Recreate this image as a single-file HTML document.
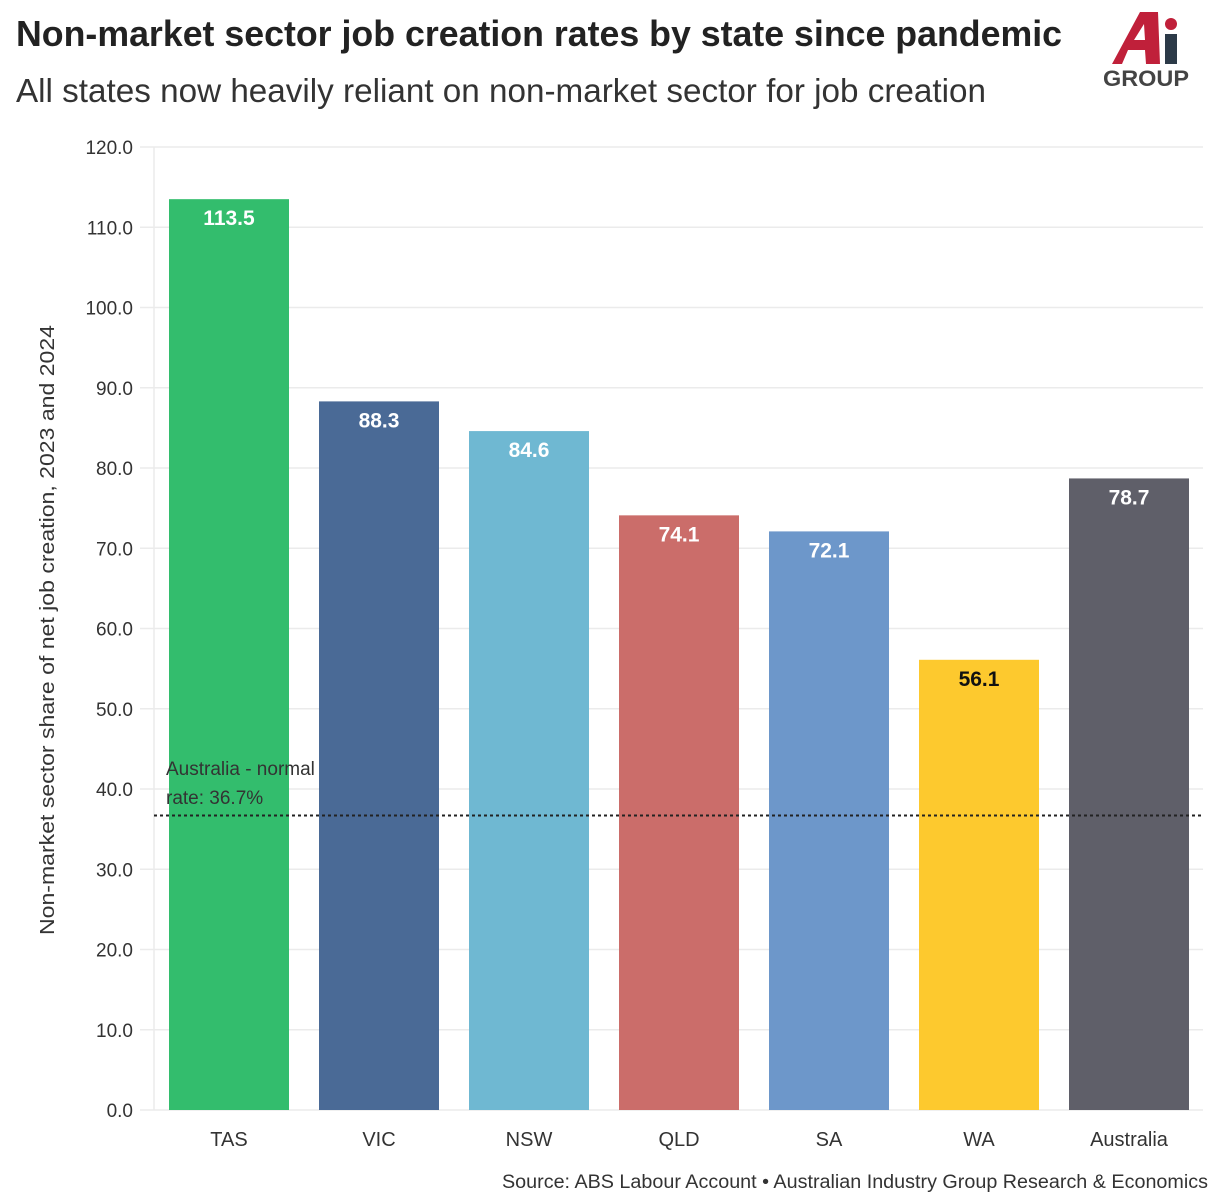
<!DOCTYPE html>
<html><head><meta charset="utf-8"><style>
body{margin:0;background:#fff;}
svg{display:block;font-family:"Liberation Sans",sans-serif;}
</style></head><body>
<svg id="chart" width="1213" height="1202">
<text x="16" y="46" font-size="36" font-weight="bold" fill="#222" textLength="1046" lengthAdjust="spacingAndGlyphs">Non-market sector job creation rates by state since pandemic</text>
<text x="16" y="102" font-size="33" fill="#333" textLength="970" lengthAdjust="spacingAndGlyphs">All states now heavily reliant on non-market sector for job creation</text>
<g>
<path d="M1112 64 L1140 12 L1158 12 L1160 64 L1146 64 L1145 50 L1128 50 L1122 64 Z M1134 40 L1145 40 L1144 24 Z" fill="#c0203a"/>
<rect x="1165" y="34" width="12" height="30" fill="#2c3a48"/>
<circle cx="1171" cy="24" r="6" fill="#c0203a"/>
<text x="1103" y="86" font-size="22" font-weight="bold" fill="#444" textLength="86" lengthAdjust="spacingAndGlyphs">GROUP</text>
</g>
<g id="grid"></g><g id="bars"></g><g id="labels"></g>
<text transform="translate(54,630) rotate(-90)" text-anchor="middle" font-size="20" fill="#333" textLength="610" lengthAdjust="spacingAndGlyphs">Non-market sector share of net job creation, 2023 and 2024</text>
<text x="1208" y="1188" text-anchor="end" font-size="19" fill="#333" textLength="706" lengthAdjust="spacingAndGlyphs">Source: ABS Labour Account • Australian Industry Group Research &amp; Economics</text>
</svg>
<script>
const categories=["TAS","VIC","NSW","QLD","SA","WA","Australia"];
const values=[113.5,88.3,84.6,74.1,72.1,56.1,78.7];
const colors=["#33bd6d","#4a6a96","#6fb8d2","#cb6d6a","#6d97ca","#fdc92e","#5f5f69"];
const labelColors=["#fff","#fff","#fff","#fff","#fff","#111","#fff"];
const ticks=[0,10,20,30,40,50,60,70,80,90,100,110,120];
const normalRate=36.7;
const NS="http://www.w3.org/2000/svg";
const y=v=>1110-v*(963/120);
const x=i=>169+i*150;
const bw=120;
function mk(t,a,p){const e=document.createElementNS(NS,t);for(const k in a)e.setAttribute(k,a[k]);p.appendChild(e);return e;}
const g=document.getElementById('grid'),b=document.getElementById('bars'),l=document.getElementById('labels');
ticks.forEach(t=>{
 const ln=mk('line',{x1:140,x2:1203,y1:y(t),y2:y(t),stroke:'#ebebeb','stroke-width':1.5},g);
 
 
 const tx=mk('text',{x:133,y:y(t)+7,'text-anchor':'end','font-size':19,fill:'#333'},g);
 tx.textContent=t.toFixed(1);
 
 
});
mk('line',{x1:154,x2:154,y1:147,y2:1110,stroke:'#ebebeb','stroke-width':1.5},g);
categories.forEach((c,i)=>{
 const r=mk('rect',{x:x(i),y:y(values[i]),width:bw,height:y(0)-y(values[i]),fill:colors[i]},b);
 
 
 const t=mk('text',{x:x(i)+bw/2,y:y(values[i])+26,'text-anchor':'middle','font-size':21,'font-weight':'bold',fill:labelColors[i]},l);
 t.textContent=values[i].toFixed(1);
 
 
 const xl=mk('text',{x:x(i)+bw/2,y:1146,'text-anchor':'middle','font-size':20,fill:'#333'},l);
 xl.textContent=c;
 
 
});
const nl=mk('line',{x1:154,x2:1203,y1:y(normalRate),y2:y(normalRate),stroke:'#222','stroke-width':2,'stroke-dasharray':'3,3'},l);


const a1=mk('text',{x:166,y:775,'font-size':19,fill:'#333'},l);a1.textContent='Australia - normal';


const a2=mk('text',{x:166,y:804,'font-size':19,fill:'#333'},l);a2.textContent='rate: '+normalRate+'%';


</script>
</body></html>
